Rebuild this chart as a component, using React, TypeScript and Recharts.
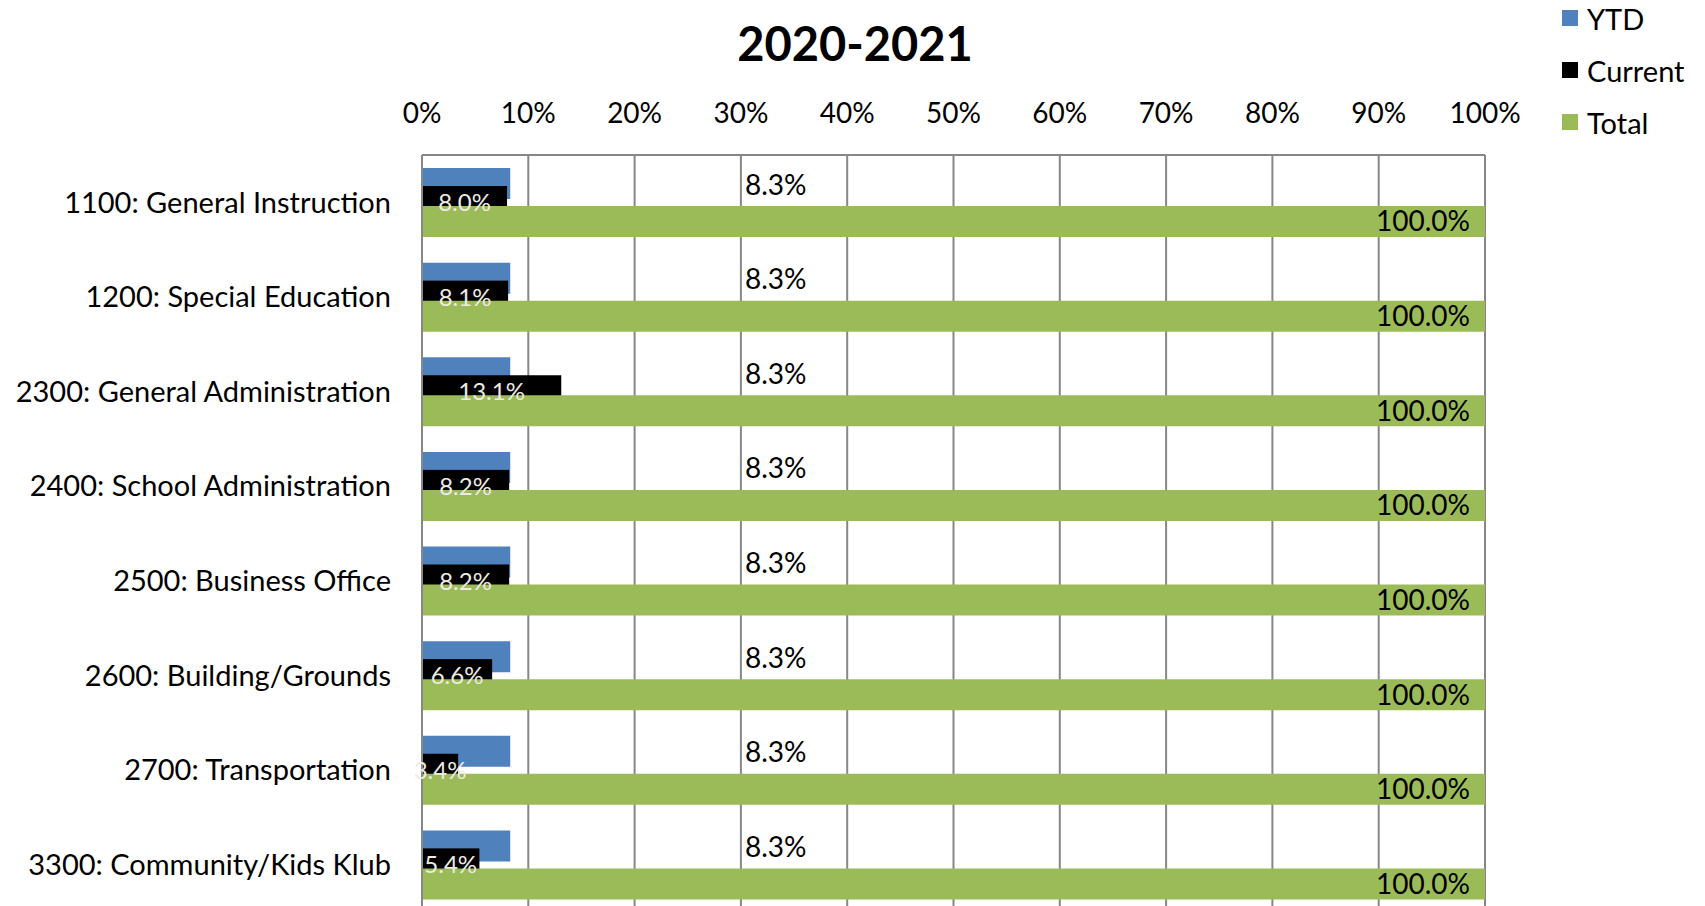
import { BarChart, Bar, XAxis, YAxis, CartesianGrid, Legend, LabelList } from 'recharts'

const categories = [
  '1100: General Instruction',
  '1200: Special Education',
  '2300: General Administration',
  '2400: School Administration',
  '2500: Business Office',
  '2600: Building/Grounds',
  '2700: Transportation',
  '3300: Community/Kids Klub',
]
const ytd = [8.3, 8.3, 8.3, 8.3, 8.3, 8.3, 8.3, 8.3]
const current = [8.0, 8.1, 13.1, 8.2, 8.2, 6.6, 3.4, 5.4]
const total = [100, 100, 100, 100, 100, 100, 100, 100]
const xTicks = [0, 10, 20, 30, 40, 50, 60, 70, 80, 90, 100]
const seriesOrder = ['YTD', 'Current', 'Total']

const COLORS = { ytd: '#4F81BD', current: '#000000', total: '#9BBB59' }
const GRID = '#878787'
const FONT = 'Lato, "Open Sans", sans-serif'

const data = categories.map((name, i) => ({
  name,
  ytd: ytd[i],
  current: current[i],
  total: total[i],
}))

const pct = (v: any) => `${Number(v).toFixed(1)}%`

// Current bars sit a bit higher than the centre of their band
const CurrentShape = (p: any) => (
  <rect x={p.x} y={p.y - 6} width={p.width} height={p.height} fill={COLORS.current} />
)

const YtdLabel = (p: any) => (
  <text x={p.x + 323} y={p.y + p.height / 2} dominantBaseline="central" fontSize={28} fill="#000">
    {pct(p.value)}
  </text>
)

const renderLegend = (props: any) => {
  const items = [...props.payload].sort(
    (a: any, b: any) => seriesOrder.indexOf(a.value) - seriesOrder.indexOf(b.value)
  )
  return (
    <div style={{ fontFamily: FONT, fontSize: 29 }}>
      {items.map((e: any) => (
        <div key={e.value} style={{ display: 'flex', alignItems: 'center', height: 52 }}>
          <span style={{ width: 16, height: 16, background: e.color, marginRight: 9, display: 'inline-block' }} />
          {e.value}
        </div>
      ))}
    </div>
  )
}

export default function App() {
  return (
    <div style={{ position: 'absolute', left: 0, top: 0, width: 1705, height: 906, overflow: 'hidden', fontFamily: FONT, background: '#fff' }}>
      <div style={{ position: 'absolute', left: 0, width: 1710, top: 13, textAlign: 'center', fontSize: 47, fontWeight: 700, lineHeight: '60px' }}>
        2020-2021
      </div>
      <BarChart
        width={1705}
        height={920}
        data={data}
        layout="vertical"
        barGap={7}
        margin={{ top: 0, right: 220, bottom: 8, left: 0 }}
      >
        <CartesianGrid horizontal={false} stroke={GRID} strokeWidth={2} yAxisId="main" />
        <XAxis
          type="number"
          orientation="top"
          domain={[0, 100]}
          ticks={xTicks}
          tickFormatter={(v) => `${v}%`}
          height={155}
          tickLine={false}
          tickSize={0}
          tickMargin={32}
          axisLine={{ stroke: GRID, strokeWidth: 2 }}
          tick={{ fill: '#000', fontSize: 28 }}
          interval={0}
        />
        <YAxis
          yAxisId="main"
          type="category"
          dataKey="name"
          width={422}
          tickLine={false}
          tickSize={0}
          tickMargin={31}
          axisLine={{ stroke: GRID, strokeWidth: 2 }}
          tick={{ fill: '#000', fontSize: 29 }}
          interval={0}
        />
        <YAxis yAxisId="cur" type="category" dataKey="name" hide width={0} />
        <Legend
          layout="vertical"
          align="center"
          verticalAlign="middle"
          wrapperStyle={{ left: 1562, top: -8, width: 143 }}
          content={renderLegend}
        />
        <Bar yAxisId="main" dataKey="ytd" name="YTD" fill={COLORS.ytd} barSize={31} isAnimationActive={false}>
          <LabelList dataKey="ytd" content={YtdLabel} />
        </Bar>
        <Bar
          yAxisId="cur"
          dataKey="current"
          name="Current"
          fill={COLORS.current}
          barSize={21}
          shape={CurrentShape}
          isAnimationActive={false}
        >
          <LabelList dataKey="current" position="center" formatter={pct} fill="#EEECE1" fontSize={24} />
        </Bar>
        <Bar yAxisId="main" dataKey="total" name="Total" fill={COLORS.total} barSize={31} isAnimationActive={false}>
          <LabelList dataKey="total" position="insideRight" offset={15} formatter={pct} fill="#000" fontSize={28} />
        </Bar>
      </BarChart>
    </div>
  )
}
